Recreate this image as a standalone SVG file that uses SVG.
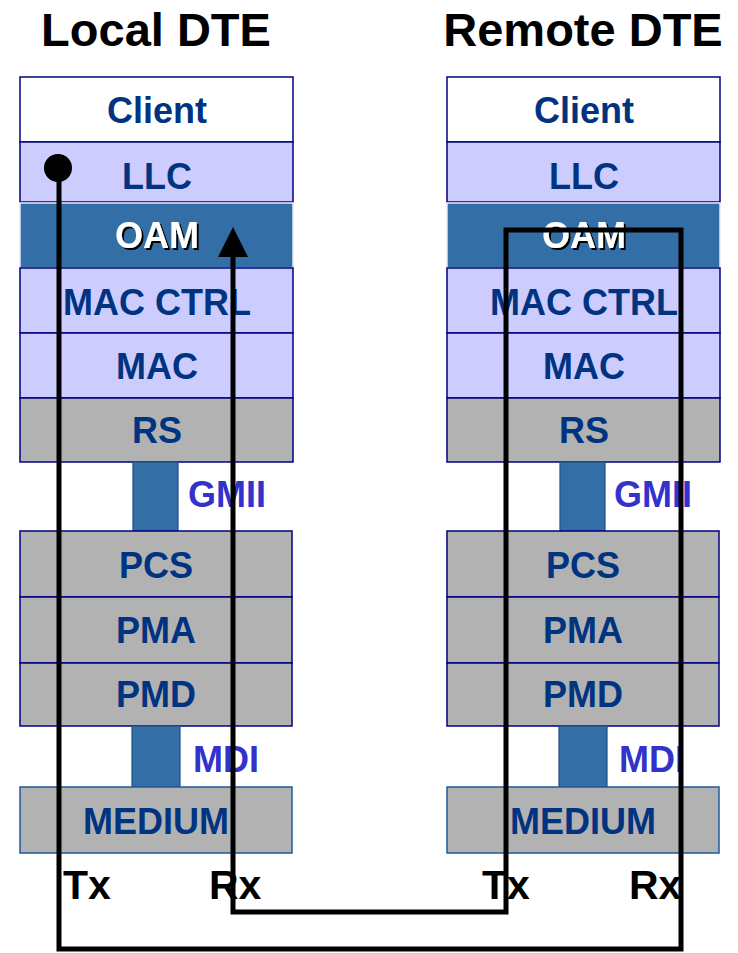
<svg xmlns="http://www.w3.org/2000/svg" width="738" height="953" viewBox="0 0 738 953">
<style>
text{font-family:"Liberation Sans",Arial,sans-serif;font-weight:bold;text-anchor:middle}
.title{font-size:47px;fill:#000}
.lbl{font-size:36px;fill:#003380}
.oamt{font-size:36px;fill:#fff}
.iface{font-size:36px;fill:#3333cc;text-anchor:start}
.txrx{font-size:41px;fill:#000;text-anchor:start}
.white{fill:#fff;stroke:#000080;stroke-width:1.5}
.lav{fill:#ccccff;stroke:#000080;stroke-width:1.5}
.oam{fill:#336ea6;stroke:#e8e8f4;stroke-width:1.5}
.gray{fill:#b2b2b2;stroke:#000080;stroke-width:1.5}
.med{fill:#b2b2b2;stroke:#1f5a9e;stroke-width:1.5}
.bar{fill:#336ea6;stroke:#1f4f8a;stroke-width:1.2}
.conn{fill:none;stroke:#000;stroke-width:5;stroke-linejoin:miter}
</style>
<defs>
<filter id="sh" x="-10%" y="-10%" width="130%" height="130%">
<feDropShadow dx="2" dy="2" stdDeviation="0" flood-color="#000" flood-opacity="1"/>
</filter>
<marker id="arrow" markerUnits="userSpaceOnUse" viewBox="0 0 30 30" markerWidth="30" markerHeight="30" refX="2" refY="15" orient="auto">
<path d="M0,0 L30,15 L0,30 z" fill="#000"/>
</marker>
</defs>
<text class="title" x="156" y="46">Local DTE</text>
<text class="title" x="583" y="46">Remote DTE</text>
<g id="local">
<g id="l-client"><rect class="white" x="20" y="77" width="273" height="65"/><text class="lbl" x="157" y="123">Client</text></g>
<g id="l-llc"><rect class="lav" x="20" y="142" width="273" height="60"/><text class="lbl" x="157" y="189">LLC</text></g>
<g id="l-oam"><rect class="oam" x="20" y="203" width="273" height="65"/><text class="oamt" x="157" y="248" filter="url(#sh)">OAM</text></g>
<g id="l-macctrl"><rect class="lav" x="20" y="268" width="273" height="65"/><text class="lbl" x="157" y="315">MAC CTRL</text></g>
<g id="l-mac"><rect class="lav" x="20" y="333" width="273" height="65"/><text class="lbl" x="157" y="379">MAC</text></g>
<g id="l-rs"><rect class="gray" x="20" y="398" width="273" height="64"/><text class="lbl" x="157" y="443">RS</text></g>
<g id="l-gmii"><rect class="bar" x="133" y="462" width="45" height="69"/><text class="iface" x="188" y="507">GMII</text></g>
<g id="l-pcs"><rect class="gray" x="20" y="531" width="272" height="66"/><text class="lbl" x="156" y="578">PCS</text></g>
<g id="l-pma"><rect class="gray" x="20" y="597" width="272" height="66"/><text class="lbl" x="156" y="643">PMA</text></g>
<g id="l-pmd"><rect class="gray" x="20" y="663" width="272" height="63"/><text class="lbl" x="156" y="707">PMD</text></g>
<g id="l-mdi"><rect class="bar" x="132" y="726" width="48" height="61"/><text class="iface" x="193" y="772">MDI</text></g>
<g id="l-medium"><rect class="med" x="20" y="787" width="272" height="66"/><text class="lbl" x="156" y="834">MEDIUM</text></g>
<text class="txrx" x="63" y="899">Tx</text>
<text class="txrx" x="209" y="899">Rx</text>
</g>
<g id="remote">
<g id="r-client"><rect class="white" x="447" y="77" width="273" height="65"/><text class="lbl" x="584" y="123">Client</text></g>
<g id="r-llc"><rect class="lav" x="447" y="142" width="273" height="60"/><text class="lbl" x="584" y="189">LLC</text></g>
<g id="r-oam"><rect class="oam" x="447" y="203" width="273" height="65"/><text class="oamt" x="584" y="248" filter="url(#sh)">OAM</text></g>
<g id="r-macctrl"><rect class="lav" x="447" y="268" width="273" height="65"/><text class="lbl" x="584" y="315">MAC CTRL</text></g>
<g id="r-mac"><rect class="lav" x="447" y="333" width="273" height="65"/><text class="lbl" x="584" y="379">MAC</text></g>
<g id="r-rs"><rect class="gray" x="447" y="398" width="273" height="64"/><text class="lbl" x="584" y="443">RS</text></g>
<g id="r-gmii"><rect class="bar" x="560" y="462" width="45" height="69"/><text class="iface" x="614" y="507">GMII</text></g>
<g id="r-pcs"><rect class="gray" x="447" y="531" width="272" height="66"/><text class="lbl" x="583" y="578">PCS</text></g>
<g id="r-pma"><rect class="gray" x="447" y="597" width="272" height="66"/><text class="lbl" x="583" y="643">PMA</text></g>
<g id="r-pmd"><rect class="gray" x="447" y="663" width="272" height="63"/><text class="lbl" x="583" y="707">PMD</text></g>
<g id="r-mdi"><rect class="bar" x="559" y="726" width="48" height="61"/><text class="iface" x="619" y="772">MDI</text></g>
<g id="r-medium"><rect class="med" x="447" y="787" width="272" height="66"/><text class="lbl" x="583" y="834">MEDIUM</text></g>
<text class="txrx" x="482" y="899">Tx</text>
<text class="txrx" x="629" y="899">Rx</text>
</g>
<g id="connectors">
<circle cx="58" cy="168" r="14" fill="#000"/>
<path class="conn" d="M59,168 V949 H681 V230 H506 V912 H233 V255" marker-end="url(#arrow)"/>
</g>
</svg>
